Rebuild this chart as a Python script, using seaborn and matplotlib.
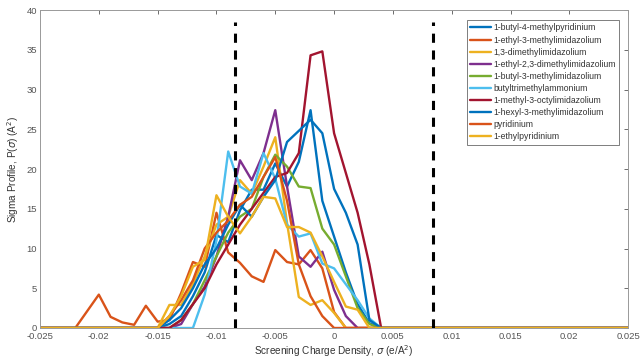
import matplotlib
matplotlib.use("Agg")
import matplotlib.pyplot as plt
import numpy as np
import pandas as pd
import seaborn as sns

# sigma grid (e/A^2), step 0.001
sigma = np.round(np.arange(-0.025, 0.0251, 0.001), 3)

names = [
    "1-butyl-4-methylpyridinium",
    "1-ethyl-3-methylimidazolium",
    "1,3-dimethylimidazolium",
    "1-ethyl-2,3-dimethylimidazolium",
    "1-butyl-3-methylimidazolium",
    "butyltrimethylammonium",
    "1-methyl-3-octylimidazolium",
    "1-hexyl-3-methylimidazolium",
    "pyridinium",
    "1-ethylpyridinium",
]
colors = ["#0072BD", "#D95319", "#EDB120", "#7E2F8E", "#77AC30",
          "#4DBEEE", "#A2142F", "#0072BD", "#D95319", "#EDB120"]

# values from -0.016 to 0.004 (21 points); zero elsewhere
bmpy = [0, 0, 0.5, 1.5, 4, 7, 11.7, 10.8, 14.8, 17.4, 17.4, 20.7, 17.8, 20.9, 27.4, 16, 11.5, 7, 3, 0.6, 0]
mmim3 = [0, 0, 2.9, 2.9, 5.5, 9, 13, 14, 18.6, 16.9, 20.3, 24, 13.2, 3.9, 2.9, 3.5, 1.9, 0, 0, 0, 0]
emmim = [0, 0, 0, 0.5, 3, 5.2, 9, 14, 21.1, 18.6, 22, 27.4, 17.8, 9, 7.7, 9.6, 4.8, 1.5, 0, 0, 0]
bmim = [0, 0, 0, 1, 3, 6, 9, 12, 14, 15, 19, 21.8, 20.3, 17.8, 17.6, 12.5, 10.5, 6.5, 2.5, 0.5, 0]
n1114 = [0, 0, 0, 0, 0, 4.2, 11, 22.2, 17.8, 16.9, 22, 18.8, 13, 11.5, 11.9, 8.1, 7.5, 5.5, 3.5, 1.2, 0]
omim = [0, 0, 0, 1, 3, 5, 8, 10.5, 13, 15, 17, 19, 19.5, 22, 34.3, 34.8, 24.5, 19.5, 14.5, 8, 0]
hmim = [0, 0, 1, 2.5, 5, 8, 10, 13, 15.5, 14, 16.5, 18.6, 23.4, 24.8, 26.2, 24.5, 17.5, 14.5, 10.5, 1, 0]
pyr = [0, 0, 1.5, 3.5, 6, 10, 12, 13.5, 15.5, 16.5, 19, 21.5, 16, 8, 4, 1.5, 0, 0, 0, 0, 0]
epy = [0, 0, 1.5, 4, 7.7, 8.6, 16.7, 14, 11.9, 14, 16.5, 16.3, 12.7, 12.7, 12, 9, 5.8, 2.7, 2.3, 0, 0]

# 1-ethyl-3-methylimidazolium has a tail from -0.022
emim_tail = [0, 2.1, 4.2, 1.4, 0.7, 0.4]  # -0.022 .. -0.017
emim = [2.8, 0.8, 1.0, 4.4, 8.3, 7.7, 14.5, 9.5, 8.2, 6.5, 5.8, 9.8, 8.3, 8.0, 9.8, 7.5, 2.0, 0, 0, 0, 0]

core = [bmpy, emim, mmim3, emmim, bmim, n1114, omim, hmim, pyr, epy]


def full(vals, start):
    out = np.zeros(len(sigma))
    i0 = int(round((start + 0.025) / 0.001))
    out[i0:i0 + len(vals)] = vals
    return out


rows = []
for name, vals in zip(names, core):
    y = full(vals, -0.016)
    if name == "1-ethyl-3-methylimidazolium":
        y += full(emim_tail, -0.022)
    rows.append(pd.DataFrame({"sigma": sigma, "P": y, "cation": name}))
df = pd.concat(rows, ignore_index=True)

sns.set_style("white")
plt.rcParams["font.family"] = ["Liberation Sans", "DejaVu Sans"]

fig = plt.figure(figsize=(6.41, 3.58), dpi=100)
ax = fig.add_axes([0.0624, 0.0838, 0.9176, 0.8882])

for name, c in zip(names, colors):
    sub = df[df["cation"] == name]
    sns.lineplot(data=sub, x="sigma", y="P", color=c, lw=1.7, ax=ax,
                 label=name, sort=False)

ax.plot([-0.0084, -0.0084], [0, 38.5], color="black", lw=2.2, ls=(0, (3, 2.5)))
ax.plot([0.0084, 0.0084], [0, 38.5], color="black", lw=2.2, ls=(0, (3, 2.5)))

ax.set_xlim(-0.025, 0.025)
ax.set_ylim(0, 40)
ax.set_xticks(np.arange(-0.025, 0.0251, 0.005))
ax.set_xticklabels(["-0.025", "-0.02", "-0.015", "-0.01", "-0.005", "0",
                    "0.005", "0.01", "0.015", "0.02", "0.025"])
ax.set_yticks(range(0, 41, 5))
ax.tick_params(direction="in", length=3, width=0.6, labelsize=6.8,
               colors="#555555", top=True, right=True, pad=2)
ax.tick_params(axis="x", pad=3.2)
for s in ax.spines.values():
    s.set_color("#999999")
    s.set_linewidth(0.7)

ax.set_xlabel("Screening Charge Density, $\\sigma$ (e/A$^2$)", fontsize=7.2,
              color="#333333", labelpad=1)
ax.set_ylabel("Sigma Profile, P($\\sigma$) (A$^2$)", fontsize=7.2,
              color="#333333", labelpad=4)

leg = ax.legend(loc="upper right", bbox_to_anchor=(0.992, 0.982), fontsize=6.2,
                frameon=True, fancybox=False, handlelength=2.4,
                handletextpad=0.3, borderpad=0.4, labelspacing=0.36)
leg.get_frame().set_edgecolor("#444444")
leg.get_frame().set_linewidth(0.6)
for t in leg.get_texts():
    t.set_color("#333333")

fig.savefig("out.png", dpi=100)
